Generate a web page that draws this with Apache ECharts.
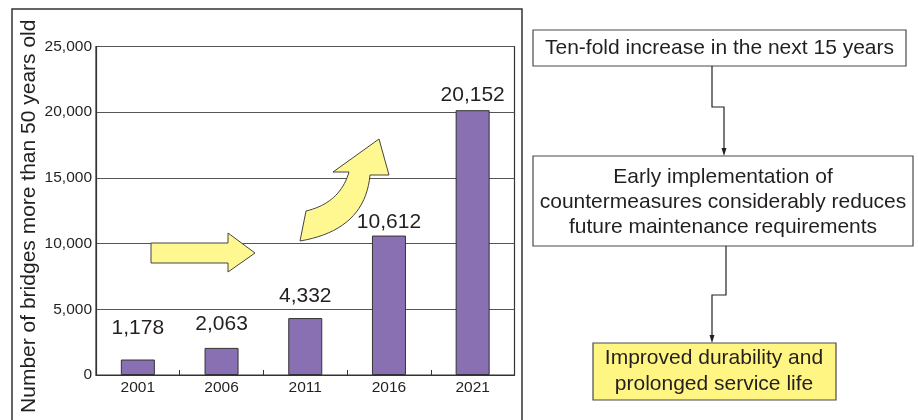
<!DOCTYPE html>
<html>
<head>
<meta charset="utf-8">
<script src="https://cdn.jsdelivr.net/npm/echarts@6/dist/echarts.min.js"></script>
<style>
html,body{margin:0;padding:0;background:#fff;}
#chart{width:918px;height:420px;}
</style>
</head>
<body>
<div id="chart"></div>
<script>
// ---- data ----
const categories = ['2001', '2006', '2011', '2016', '2021'];
const bridgeCounts = [1178, 2063, 4332, 10612, 20152];
const yAxisName = 'Number of bridges more than 50 years old';
const flowTexts = [
  'Ten-fold increase in the next 15 years',
  'Early implementation of\ncountermeasures considerably reduces\nfuture maintenance requirements',
  'Improved durability and\nprolonged service life'
];
// label offsets above each bar (style only)
const labelGap = [21, 13, 11, 3, 4];

const FONT = '"Liberation Sans", Arial, Helvetica, sans-serif';
const TXT = '#231f20';
const chart = echarts.init(document.getElementById('chart'), null, {renderer: 'canvas'});

function quad(p0, c, p2, n) {
  const pts = [];
  for (let i = 0; i <= n; i++) {
    const t = i / n, u = 1 - t;
    pts.push([u*u*p0[0] + 2*u*t*c[0] + t*t*p2[0], u*u*p0[1] + 2*u*t*c[1] + t*t*p2[1]]);
  }
  return pts;
}
// curved yellow arrow outline
const upper = quad([306, 211], [340, 203], [349, 172], 20);
const lower = quad([370, 175], [365, 230], [300, 241], 20);
const curvedArrow = [[300, 241]].concat(upper, [[333, 172], [379, 139], [389, 175]], lower);

const boxStroke = '#4a4a4a';
const graphics = [
  // outer frame
  {type: 'rect', shape: {x: 12, y: 9, width: 510, height: 430}, style: {fill: 'none', stroke: '#333', lineWidth: 1.5}, z: 10},
  // straight yellow arrow
  {type: 'polygon', shape: {points: [[151, 243], [228, 243], [228, 233], [255, 253], [228, 272], [228, 263], [151, 263]]},
   style: {fill: '#fff78f', stroke: '#444', lineWidth: 1}, z: 10},
  // curved yellow arrow
  {type: 'polygon', shape: {points: curvedArrow}, style: {fill: '#fff78f', stroke: '#444', lineWidth: 1}, z: 10},
  // box 1
  {type: 'rect', shape: {x: 533, y: 30, width: 373, height: 36}, style: {fill: '#fff', stroke: boxStroke, lineWidth: 1.2}, z: 10},
  {type: 'text', x: 719.5, y: 48, style: {text: flowTexts[0], fill: TXT, font: '21px ' + FONT, textAlign: 'center', textVerticalAlign: 'middle'}, z: 11},
  // connector 1
  {type: 'polyline', shape: {points: [[712, 66], [712, 107], [724, 107], [724, 149]]}, style: {stroke: '#222', lineWidth: 1.2, fill: null}, z: 10},
  {type: 'polygon', shape: {points: [[721.5, 148], [726.5, 148], [724, 156]]}, style: {fill: '#222'}, z: 10},
  // box 2
  {type: 'rect', shape: {x: 533, y: 156, width: 380, height: 90}, style: {fill: '#fff', stroke: boxStroke, lineWidth: 1.2}, z: 10},
  {type: 'text', x: 723, y: 202, style: {text: flowTexts[1], fill: TXT, font: '21px ' + FONT, lineHeight: 25, textAlign: 'center', textVerticalAlign: 'middle'}, z: 11},
  // connector 2
  {type: 'polyline', shape: {points: [[726, 246], [726, 295], [712, 295], [712, 336]]}, style: {stroke: '#222', lineWidth: 1.2, fill: null}, z: 10},
  {type: 'polygon', shape: {points: [[709.5, 335], [714.5, 335], [712, 343]]}, style: {fill: '#222'}, z: 10},
  // box 3
  {type: 'rect', shape: {x: 593, y: 343, width: 243, height: 57}, style: {fill: '#fff582', stroke: boxStroke, lineWidth: 1.2}, z: 10},
  {type: 'text', x: 714, y: 371.5, style: {text: flowTexts[2], fill: TXT, font: '21px ' + FONT, lineHeight: 26, textAlign: 'center', textVerticalAlign: 'middle'}, z: 11}
];

const option = {
  animation: false,
  backgroundColor: '#fff',
  textStyle: {fontFamily: FONT},
  grid: {left: 96, top: 46.5, right: 403.5, bottom: 45, show: true, borderColor: '#333', borderWidth: 1.2, backgroundColor: 'transparent'},
  xAxis: {
    type: 'category',
    data: categories,
    axisLine: {show: true, lineStyle: {color: '#333', width: 1.2}},
    axisTick: {show: true, inside: true, length: 5, lineStyle: {color: '#333'}},
    axisLabel: {color: TXT, fontSize: 15.5, margin: 5, fontFamily: FONT}
  },
  yAxis: {
    type: 'value',
    min: 0, max: 25000, interval: 5000,
    name: yAxisName,
    nameLocation: 'middle',
    nameGap: 56,
    nameTextStyle: {color: TXT, fontSize: 21, fontFamily: FONT, padding: [0, 11, 0, 0]},
    axisLine: {show: true, lineStyle: {color: '#333', width: 1.2}},
    axisTick: {show: false},
    axisLabel: {color: TXT, fontSize: 15.5, margin: 4, fontFamily: FONT,
      formatter: v => v.toLocaleString('en-US')},
    splitLine: {show: true, lineStyle: {color: '#555', width: 1}}
  },
  series: [{
    type: 'bar',
    barWidth: 34,
    data: bridgeCounts.map((v, i) => ({value: v, label: {distance: labelGap[i]}})),
    itemStyle: {color: '#8870b3', borderColor: '#333', borderWidth: 1},
    label: {show: true, position: 'top', color: TXT, fontSize: 21, fontFamily: FONT,
      formatter: p => p.value.toLocaleString('en-US')}
  }],
  graphic: {elements: graphics}
};
chart.setOption(option);
</script>
</body>
</html>
